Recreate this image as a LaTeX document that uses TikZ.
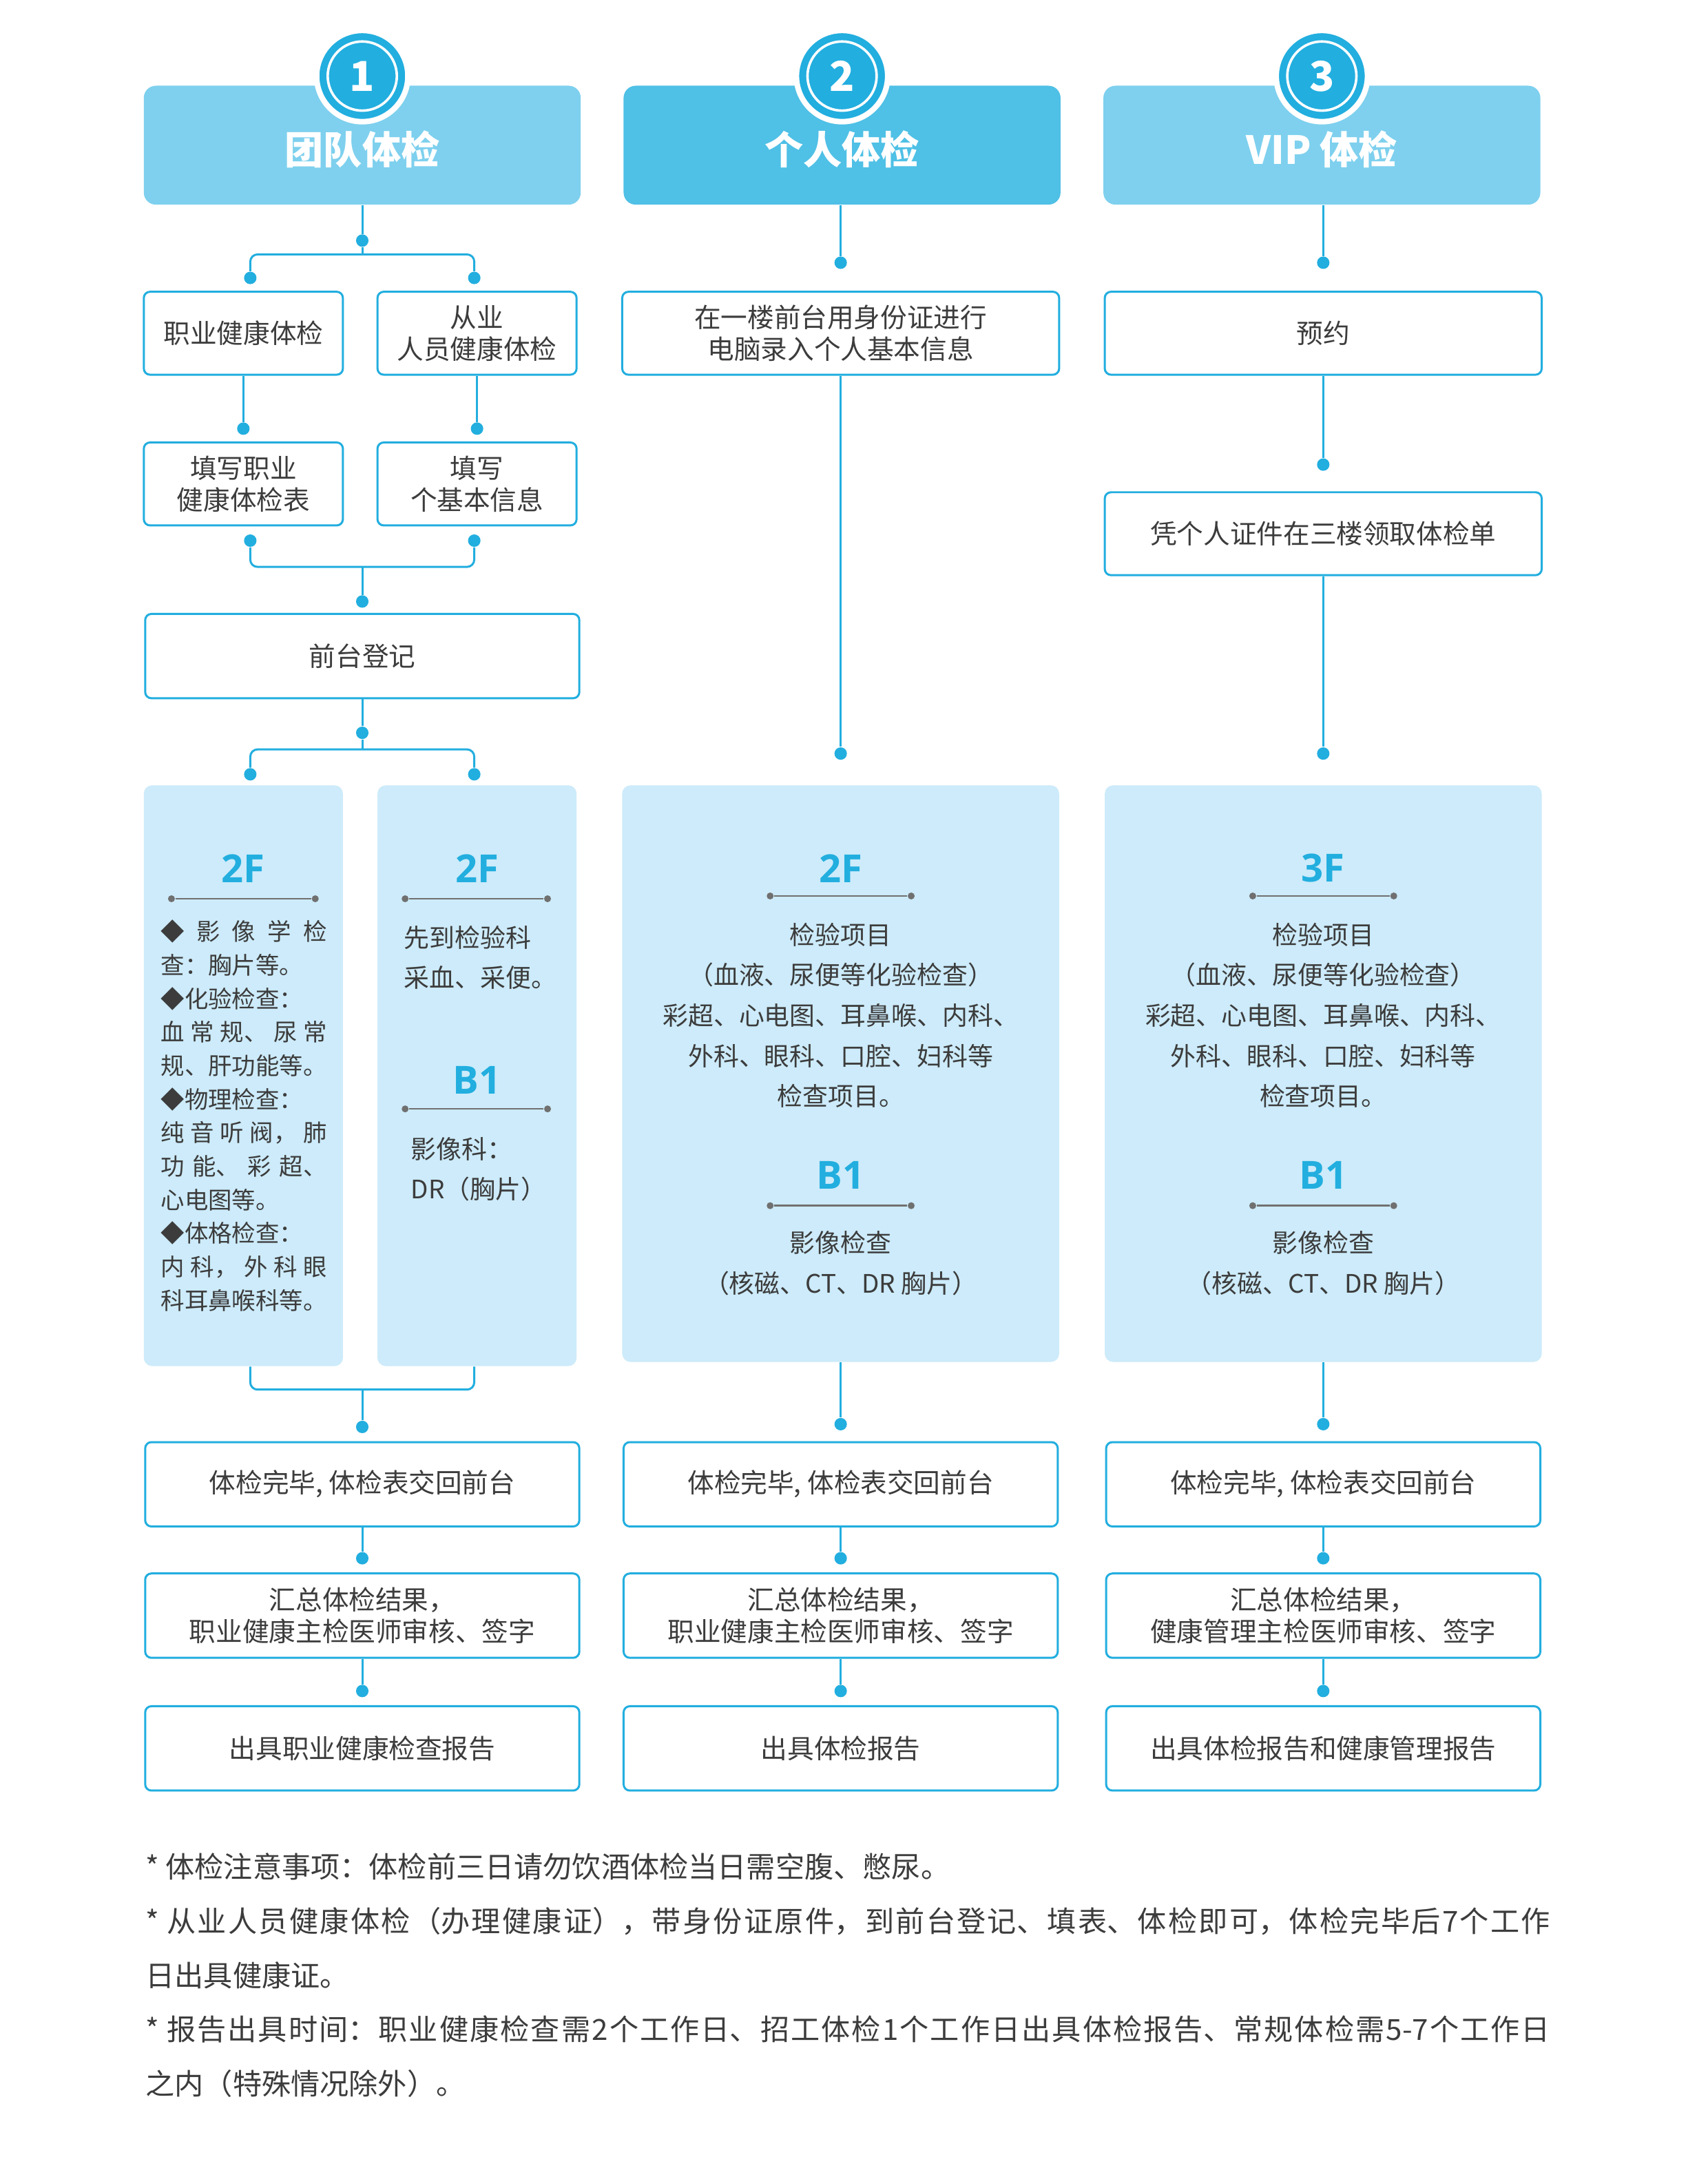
\documentclass[tikz,border=0pt]{standalone}
\usepackage{fontspec}
\setmainfont{Noto Sans CJK SC}
\newfontfamily\flrfont{Open Sans}
\usetikzlibrary{positioning,calc}
\newlength\pxu
\setlength\pxu{0.2008mm}
\definecolor{hdblue}{HTML}{7ED0EE}
\definecolor{hddeep}{HTML}{4FC0E6}
\definecolor{lnblue}{HTML}{22AEDF}
\definecolor{pnblue}{HTML}{CDEBFA}
\definecolor{txtgray}{HTML}{3C3C3C}
\definecolor{rulegray}{HTML}{707070}
\newcommand{\cjkbreak}{\XeTeXlinebreaklocale "zh"\XeTeXlinebreakskip=0pt plus 2pt\relax}
\tikzstyle{hbox}=[rectangle, rounded corners=5pt, fill=hdblue, minimum width=316*\pxu,
                  minimum height=86*\pxu, inner sep=0pt]
\tikzstyle{htext}=[text=white, font=\bfseries\fontsize{16}{18}\selectfont, inner sep=0pt]
\tikzstyle{halo}=[circle, fill=lnblue, draw=white, line width=4*\pxu, minimum size=66*\pxu, inner sep=0pt]
\tikzstyle{numc}=[circle, fill=lnblue, draw=white, line width=1.8*\pxu, minimum size=50*\pxu,
                  inner sep=0pt, text=white, font=\bfseries\fontsize{17}{17}\selectfont]
\tikzstyle{sbox}=[rectangle, rounded corners=4.5*\pxu, draw=lnblue, line width=0.85pt, fill=white,
                  align=center, text=txtgray, font=\fontsize{11}{13.2}\selectfont, inner sep=0pt,
                  minimum height=60*\pxu]
\tikzstyle{pnl}=[rectangle, rounded corners=6*\pxu, fill=pnblue, inner sep=0pt]
\tikzstyle{jdot}=[circle, fill=lnblue, inner sep=0pt, minimum size=9*\pxu]
\tikzstyle{pline}=[-, draw=lnblue, line width=0.85pt]
\tikzstyle{flr}=[text=lnblue, font=\flrfont\bfseries\fontsize{16}{16}\selectfont, inner sep=0pt]
\tikzstyle{gdot}=[circle, fill=rulegray, inner sep=0pt, minimum size=5*\pxu]
\tikzstyle{gline}=[-, draw=rulegray, line width=0.7pt]
\tikzstyle{ptext}=[text=txtgray, font=\fontsize{10.5}{16.7}\selectfont, inner sep=0pt]
\tikzstyle{note}=[text=txtgray, inner sep=0pt, text width=204mm, align=justify,
                  font=\fontsize{12}{22.4}\selectfont\cjkbreak]
\newcommand{\jline}[1]{\makebox[24.1mm][s]{#1}}

\begin{document}
\begin{tikzpicture}[x=\pxu, y=-\pxu]
\path[use as bounding box, fill=white] (0,0) rectangle (1235,1568);

% team column
\node (h1) [hbox] at (262,105) {};
\node (t1) [htext] at (262,108) {团队体检};
\node (c1) [halo] at (262,55) {};
\node (n1) [numc] at (c1) {1};
\node (d1) [jdot] at (262,174) {};
 \draw[pline] (h1) -- (d1);
\coordinate (k1) at (262,184);
\node (d1a) [jdot] at (181,201) {};
\node (d1b) [jdot] at (343,201) {};
 \draw[pline] (d1) -- (k1);
 \draw[pline, rounded corners=3pt] (d1a) |- (k1) -| (d1b);
\node (a1) [sbox, minimum width=144*\pxu] at (176,241) {职业健康体检};
\node (b1) [sbox, minimum width=144*\pxu] at (345,241) {从业\\人员健康体检};
\node (d2a) [jdot] at (176,310) {};
\node (d2b) [jdot] at (345,310) {};
 \draw[pline] (a1) -- (d2a);
 \draw[pline] (b1) -- (d2b);
\node (a2) [sbox, minimum width=144*\pxu] at (176,350) {填写职业\\健康体检表};
\node (b2) [sbox, minimum width=144*\pxu] at (345,350) {填写\\个基本信息};
\node (d3a) [jdot] at (181,391) {};
\node (d3b) [jdot] at (343,391) {};
\coordinate (k2) at (262,410);
 \draw[pline, rounded corners=3pt] (d3a) |- (k2) -| (d3b);
\node (d3) [jdot] at (262,435) {};
 \draw[pline] (k2) -- (d3);
\node (reg) [sbox, minimum width=314*\pxu, minimum height=61*\pxu] at (262,474.5) {前台登记};
\node (d4) [jdot] at (262,530) {};
 \draw[pline] (reg) -- (d4);
\coordinate (k3) at (262,542);
\node (d4a) [jdot] at (181,560) {};
\node (d4b) [jdot] at (343,560) {};
 \draw[pline] (d4) -- (k3);
 \draw[pline, rounded corners=3pt] (d4a) |- (k3) -| (d4b);
\node (pL) [pnl, minimum width=144*\pxu, minimum height=420*\pxu] at (176,778) {};
\node (pR) [pnl, minimum width=144*\pxu, minimum height=420*\pxu] at (345,778) {};
\node (fL) [flr] at (176,628) {2F};
\node (gL1) [gdot] at (124,650) {};
\node (gL2) [gdot] at (228,650) {};
 \draw[gline] (gL1) -- (gL2);
\node (tL) [ptext, align=left, anchor=north west, font=\fontsize{9.8}{13.85}\selectfont] at (116,665)
 {\jline{◆ 影 像 学 检}\\查：胸片等。\\◆化验检查：\\\jline{血 常 规、 尿 常}\\规、肝功能等。\\◆物理检查：\\
  \jline{纯 音 听 阀， 肺}\\\jline{功 能、 彩 超、}\\心电图等。\\◆体格检查：\\\jline{内 科， 外 科 眼}\\科耳鼻喉科等。};
\node (fR1) [flr] at (345,628) {2F};
\node (gR1) [gdot] at (293,650) {};
\node (gR2) [gdot] at (396,650) {};
 \draw[gline] (gR1) -- (gR2);
\node (tR1) [ptext, align=left, anchor=north west] at (292,669) {先到检验科\\采血、采便。};
\node (fR2) [flr] at (345,781) {B1};
\node (gR3) [gdot] at (293,802) {};
\node (gR4) [gdot] at (396,802) {};
 \draw[gline] (gR3) -- (gR4);
\node (tR2) [ptext, align=left, anchor=north west] at (297,822) {影像科：\\DR（胸片）};
\coordinate (k4) at (262,1005);
 \draw[pline, rounded corners=3pt] (pL.south -| d4a) |- (k4) -| (pR.south -| d4b);
\node (d5) [jdot] at (262,1032) {};
 \draw[pline] (k4) -- (d5);
\node (f1) [sbox, minimum width=314*\pxu, minimum height=61*\pxu] at (262,1073.5) {体检完毕, 体检表交回前台};
\node (d6) [jdot] at (262,1127) {};
 \draw[pline] (f1) -- (d6);
\node (f2) [sbox, minimum width=314*\pxu, minimum height=61*\pxu] at (262,1168.5) {汇总体检结果，\\职业健康主检医师审核、签字};
\node (d7) [jdot] at (262,1223) {};
 \draw[pline] (f2) -- (d7);
\node (f3) [sbox, minimum width=314*\pxu, minimum height=61*\pxu] at (262,1264.5) {出具职业健康检查报告};

% personal column
\node (h2) [hbox, fill=hddeep] at (609,105) {};
\node (t2) [htext] at (609,108) {个人体检};
\node (c2) [halo] at (609,55) {};
\node (n2) [numc] at (c2) {2};
\node (d8) [jdot] at (608,190) {};
 \draw[pline] (h2.south -| d8) -- (d8);
\node (g1) [sbox, minimum width=316*\pxu] at (608,241) {在一楼前台用身份证进行\\电脑录入个人基本信息};
\node (d9) [jdot] at (608,545) {};
 \draw[pline] (g1) -- (d9);
\node (pM) [pnl, minimum width=316*\pxu, minimum height=417*\pxu] at (608,776.5) {};
\node (fM1) [flr] at (608,628) {2F};
\node (gM1) [gdot] at (557,648) {};
\node (gM2) [gdot] at (659,648) {};
 \draw[gline] (gM1) -- (gM2);
\node (tM1) [ptext, align=center, anchor=north] at (608,667)
 {检验项目\\（血液、尿便等化验检查）\\彩超、心电图、耳鼻喉、内科、\\外科、眼科、口腔、妇科等\\检查项目。};
\node (fM2) [flr] at (608,850) {B1};
\node (gM3) [gdot] at (557,872) {};
\node (gM4) [gdot] at (659,872) {};
 \draw[gline] (gM3) -- (gM4);
\node (tM2) [ptext, align=center, anchor=north] at (608,890) {影像检查\\（核磁、CT、DR 胸片）};
\node (d10) [jdot] at (608,1030) {};
 \draw[pline] (pM) -- (d10);
\node (g2) [sbox, minimum width=314*\pxu, minimum height=61*\pxu] at (608,1073.5) {体检完毕, 体检表交回前台};
\node (d11) [jdot] at (608,1127) {};
 \draw[pline] (g2) -- (d11);
\node (g3) [sbox, minimum width=314*\pxu, minimum height=61*\pxu] at (608,1168.5) {汇总体检结果，\\职业健康主检医师审核、签字};
\node (d12) [jdot] at (608,1223) {};
 \draw[pline] (g3) -- (d12);
\node (g4) [sbox, minimum width=314*\pxu, minimum height=61*\pxu] at (608,1264.5) {出具体检报告};

% vip column
\node (h3) [hbox] at (956,105) {};
\node (t3) [htext] at (956,108) {VIP 体检};
\node (c3) [halo] at (956,55) {};
\node (n3) [numc] at (c3) {3};
\node (d13) [jdot] at (957,190) {};
 \draw[pline] (h3.south -| d13) -- (d13);
\node (v1) [sbox, minimum width=316*\pxu] at (957,241) {预约};
\node (d14) [jdot] at (957,336) {};
 \draw[pline] (v1) -- (d14);
\node (v2) [sbox, minimum width=316*\pxu] at (957,386) {凭个人证件在三楼领取体检单};
\node (d15) [jdot] at (957,545) {};
 \draw[pline] (v2) -- (d15);
\node (pV) [pnl, minimum width=316*\pxu, minimum height=417*\pxu] at (957,776.5) {};
\node (fV1) [flr] at (957,628) {3F};
\node (gV1) [gdot] at (906,648) {};
\node (gV2) [gdot] at (1008,648) {};
 \draw[gline] (gV1) -- (gV2);
\node (tV1) [ptext, align=center, anchor=north] at (957,667)
 {检验项目\\（血液、尿便等化验检查）\\彩超、心电图、耳鼻喉、内科、\\外科、眼科、口腔、妇科等\\检查项目。};
\node (fV2) [flr] at (957,850) {B1};
\node (gV3) [gdot] at (906,872) {};
\node (gV4) [gdot] at (1008,872) {};
 \draw[gline] (gV3) -- (gV4);
\node (tV2) [ptext, align=center, anchor=north] at (957,890) {影像检查\\（核磁、CT、DR 胸片）};
\node (d16) [jdot] at (957,1030) {};
 \draw[pline] (pV) -- (d16);
\node (v3) [sbox, minimum width=314*\pxu, minimum height=61*\pxu] at (957,1073.5) {体检完毕, 体检表交回前台};
\node (d17) [jdot] at (957,1127) {};
 \draw[pline] (v3) -- (d17);
\node (v4) [sbox, minimum width=314*\pxu, minimum height=61*\pxu] at (957,1168.5) {汇总体检结果，\\健康管理主检医师审核、签字};
\node (d18) [jdot] at (957,1223) {};
 \draw[pline] (v4) -- (d18);
\node (v5) [sbox, minimum width=314*\pxu, minimum height=61*\pxu] at (957,1264.5) {出具体检报告和健康管理报告};

\node (nt) [note, anchor=north west] at (105,1340)
 {{*} 体检注意事项：体检前三日请勿饮酒体检当日需空腹、憋尿。\\
  {*} 从业人员健康体检（办理健康证），带身份证原件，到前台登记、填表、体检即可，体检完毕后7个工作\linebreak 日出具健康证。\\
  {*} 报告出具时间：职业健康检查需2个工作日、招工体检1个工作日出具体检报告、常规体检需5-7个工作日\linebreak 之内（特殊情况除外）。};

\end{tikzpicture}
\end{document}
